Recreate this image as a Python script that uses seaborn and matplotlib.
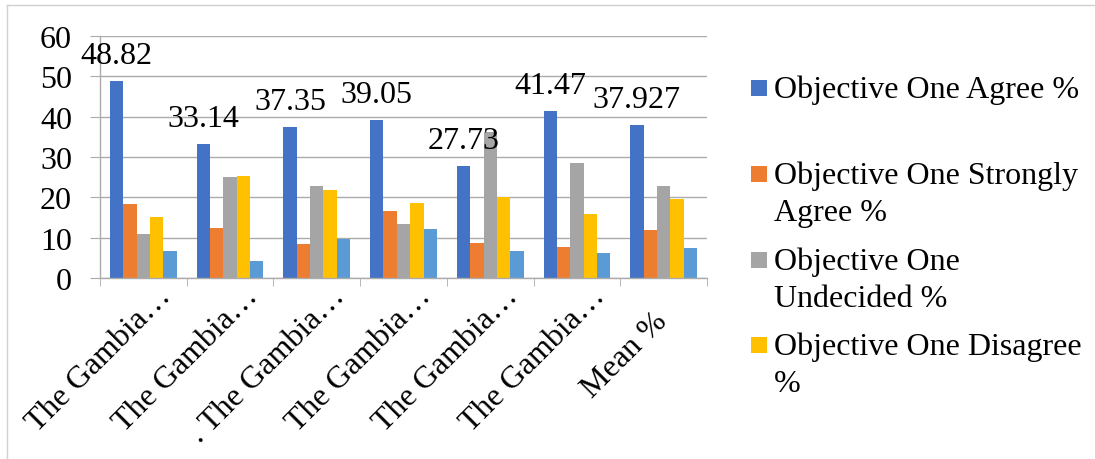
import pandas as pd
import seaborn as sns
import matplotlib.pyplot as plt
from matplotlib.transforms import ScaledTranslation
from matplotlib.lines import Line2D
from matplotlib.patches import Rectangle

# chart data
categories = ['G1', 'G2', 'G3', 'G4', 'G5', 'G6', 'Mean']
tick_labels = ['The Gambia…', 'The Gambia…', '. The Gambia…', 'The Gambia…',
               'The Gambia…', 'The Gambia…', 'Mean %']
series = ['Objective One Agree %', 'Objective One Strongly Agree %',
          'Objective One Undecided %', 'Objective One Disagree %',
          'Objective One Strongly Disagree %']
agree = [48.82, 33.14, 37.35, 39.05, 27.73, 41.47, 37.927]
strongly_agree = [18.3, 12.5, 8.5, 16.5, 8.7, 7.8, 12.0]
undecided = [10.8, 25.0, 22.7, 13.5, 36.3, 28.5, 22.7]
disagree = [15.2, 25.2, 21.8, 18.6, 20.2, 15.8, 19.5]
strongly_disagree = [6.7, 4.1, 9.6, 12.1, 6.6, 6.1, 7.55]
legend_labels = ['Objective One Agree %', 'Objective One Strongly\nAgree %',
                 'Objective One\nUndecided %', 'Objective One Disagree\n%']
colors = ['#4472C4', '#ED7D31', '#A5A5A5', '#FFC000', '#5B9BD5']

rows = []
for name, vals in zip(series, [agree, strongly_agree, undecided, disagree, strongly_disagree]):
    for cat, v in zip(categories, vals):
        rows.append({'category': cat, 'series': name, 'value': v})
df = pd.DataFrame(rows)

plt.rcParams['font.family'] = ['Liberation Serif', 'DejaVu Serif']
FS = 23
grid_c = '#ababab'

W, H = 1095, 460
fig = plt.figure(figsize=(W / 100, H / 100), dpi=100)
ax = fig.add_axes([100 / W, 1 - 279 / H, 607 / W, 242 / H])

sns.barplot(data=df, x='category', y='value', hue='series', order=categories,
            hue_order=series, palette=colors, saturation=1, width=0.77,
            errorbar=None, legend=False, linewidth=0, ax=ax)

ax.set_xlim(-0.5, len(categories) - 0.5)
ax.set_ylim(0, 60)
ax.set_yticks(range(0, 61, 10))
ax.set_xlabel('')
ax.set_ylabel('')
ax.set_axisbelow(True)
ax.yaxis.grid(True, color=grid_c, linewidth=1.0)
ax.xaxis.grid(False)
for s in ['top', 'right']:
    ax.spines[s].set_visible(False)
for s in ['left', 'bottom']:
    ax.spines[s].set_color(grid_c)
    ax.spines[s].set_linewidth(1.0)

ax.tick_params(axis='y', length=7.2, color=grid_c, pad=13, labelsize=FS)

# category boundary ticks
ax.set_xticks([i - 0.5 for i in range(len(categories) + 1)], minor=True)
ax.tick_params(axis='x', which='minor', length=6, color=grid_c, direction='out')
ax.set_xticks(range(len(categories)))
ax.set_xticklabels(tick_labels, rotation=45, rotation_mode='anchor',
                   ha='right', va='baseline', fontsize=FS)
ax.tick_params(axis='x', which='major', length=0, pad=13.7)
for i, lab in enumerate(ax.get_xticklabels()):
    dx, dy = (29, 0) if i < len(categories) - 1 else (5, -25)
    lab.set_transform(lab.get_transform() +
                      ScaledTranslation(dx / 100, dy / 100, fig.dpi_scale_trans))

# data labels on the agree series
ax.bar_label(ax.containers[0], labels=[f'{v:g}' for v in agree],
             padding=8, fontsize=FS)

# legend drawn by hand (first four series only, as in the source)
entry_baselines = [97.7, 184, 270, 355]
for lab, col, base in zip(legend_labels, colors, entry_baselines):
    fig.add_artist(Rectangle((751 / W, 1 - (base - 1) / H), 16 / W, 16 / H,
                             transform=fig.transFigure, color=col, lw=0))
    for k, line in enumerate(lab.split('\n')):
        fig.text(774 / W, 1 - (base + k * 36.7) / H, line, fontsize=FS,
                 va='baseline', ha='left')

# chart area border
border = '#d0d0d0'
fig.add_artist(Line2D([7 / W, 1], [1 - 6 / H, 1 - 6 / H],
                      transform=fig.transFigure, color=border, lw=1))
fig.add_artist(Line2D([7 / W, 7 / W], [0, 1 - 6 / H],
                      transform=fig.transFigure, color=border, lw=1))

fig.savefig('out.png', dpi=100)
